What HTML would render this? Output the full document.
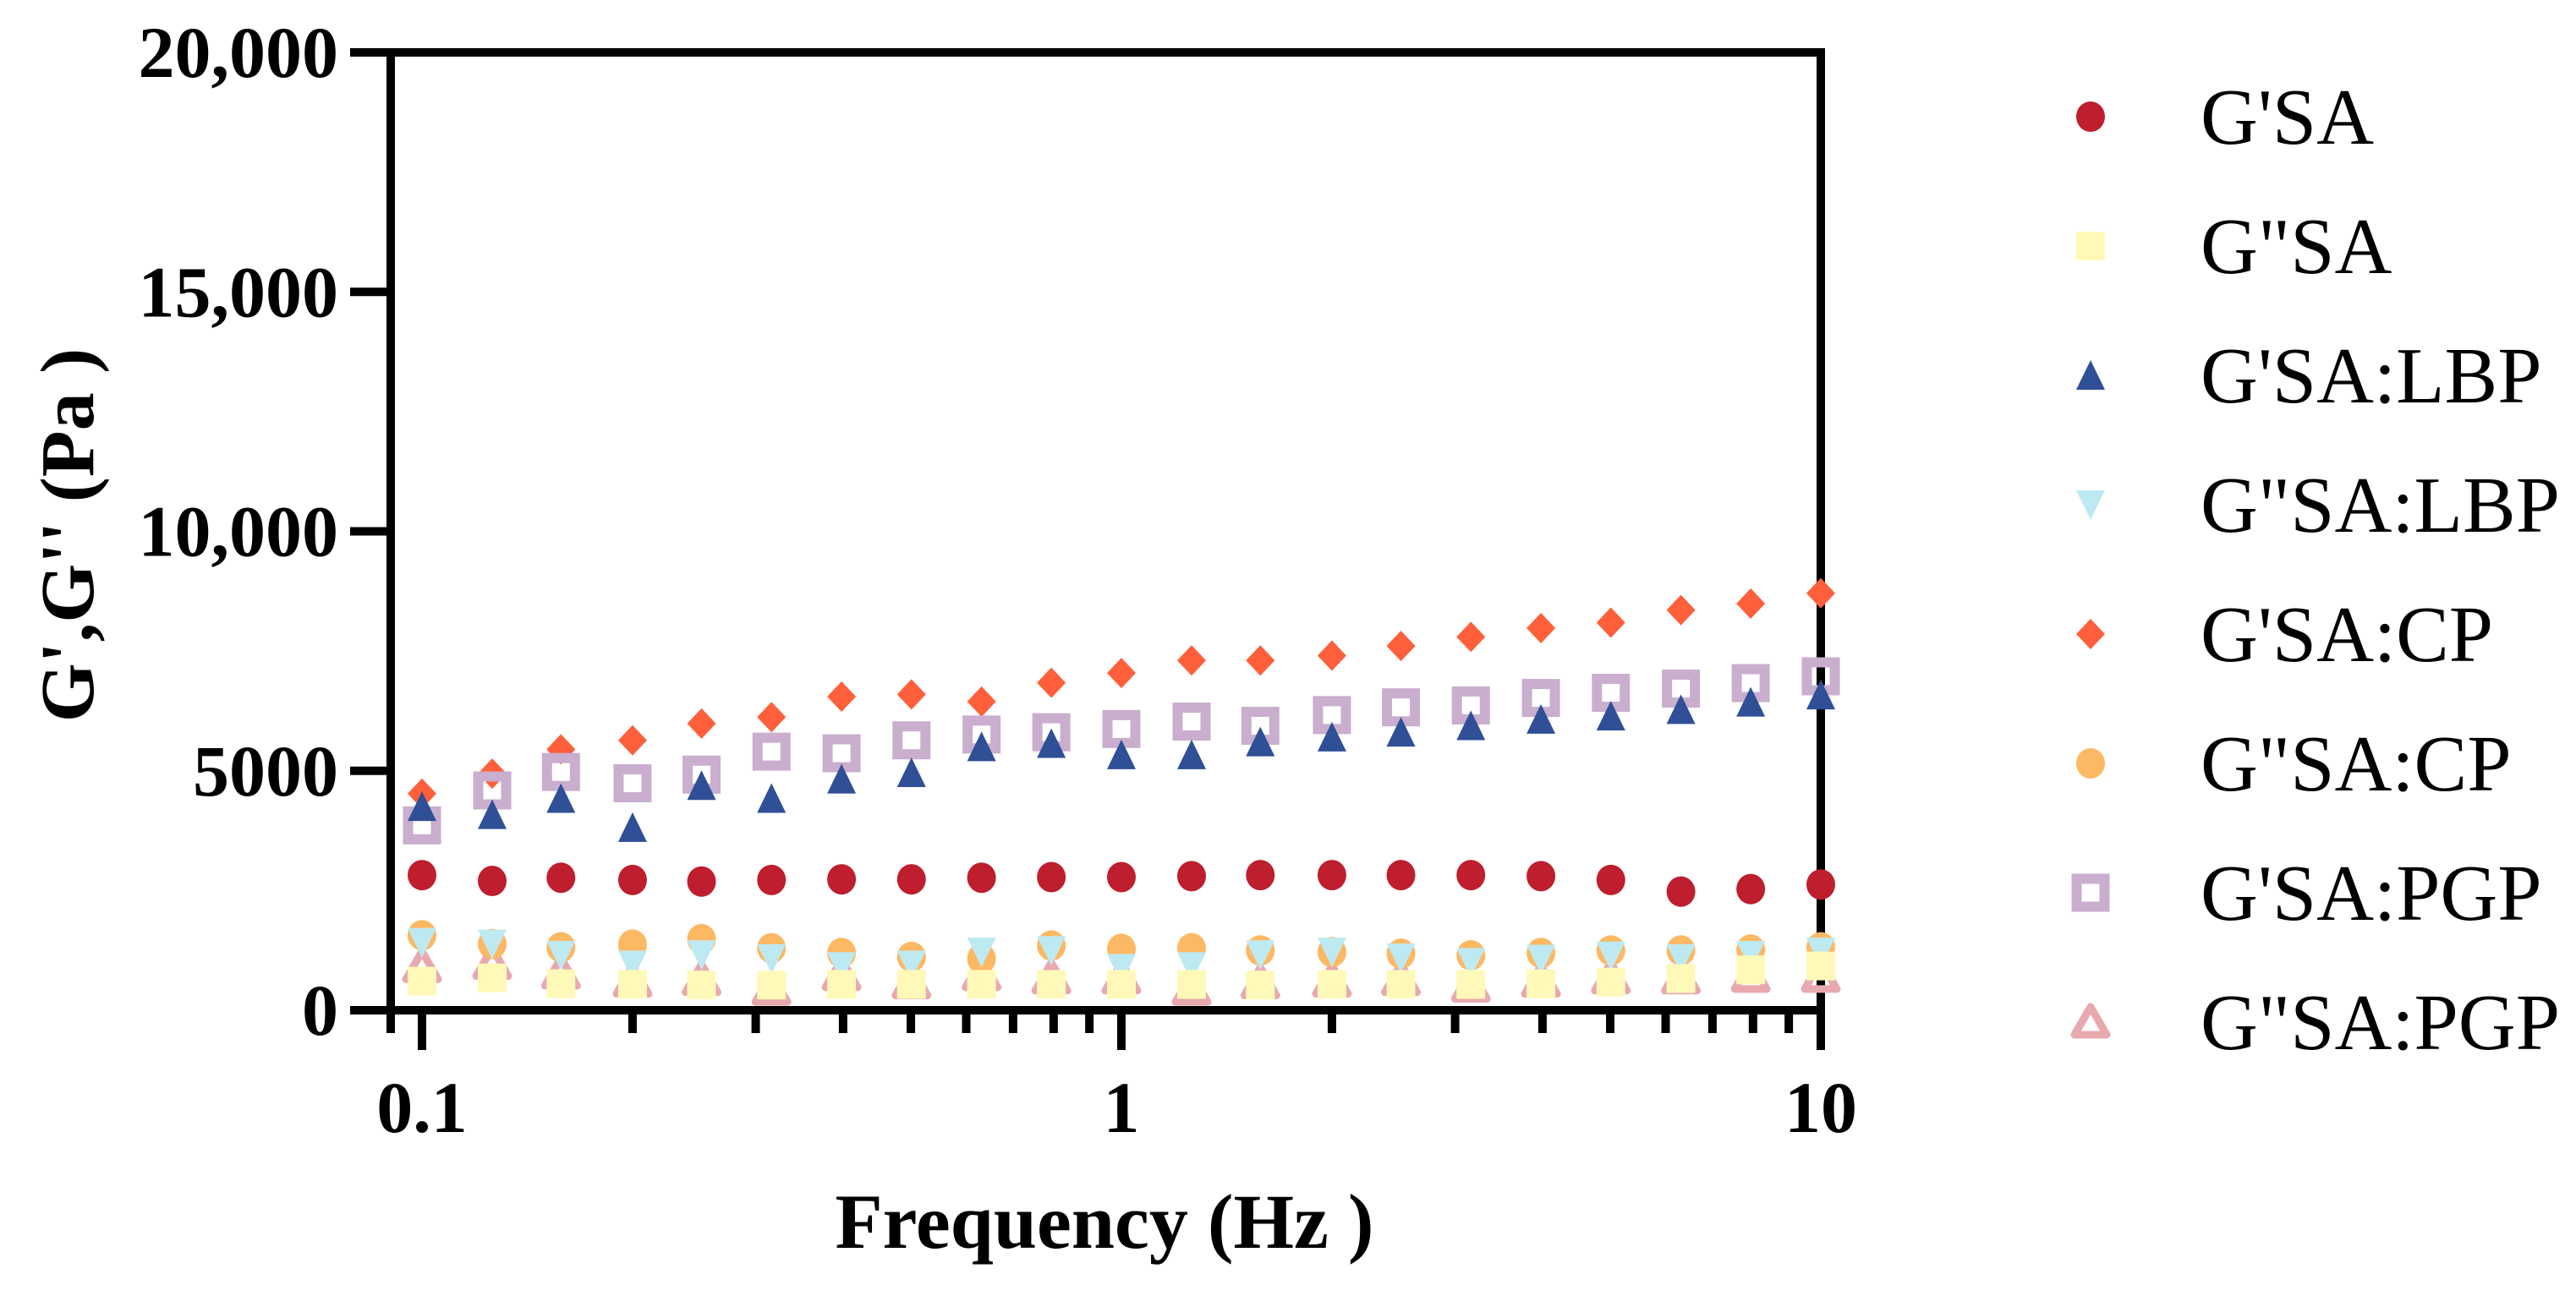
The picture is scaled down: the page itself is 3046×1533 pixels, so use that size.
<!DOCTYPE html>
<html><head><meta charset="utf-8">
<style>html,body{margin:0;padding:0;background:#fff;}svg{display:block;}</style></head>
<body>
<svg id="chart" width="3046" height="1533" viewBox="0 0 3046 1533" xmlns="http://www.w3.org/2000/svg">
<g id="axes"></g>
<g id="marks"></g>
<g id="legend"></g>
<text transform="translate(110,633) rotate(-90)" text-anchor="middle" font-family="Liberation Serif, serif" font-weight="bold" font-size="90">G',G'' (Pa )</text>
<text x="1306" y="1476" text-anchor="middle" font-family="Liberation Serif, serif" font-weight="bold" font-size="92">Frequency (Hz )</text>
</svg>
<script>
const freqs = [0.1,0.126,0.158,0.2,0.251,0.316,0.398,0.501,0.631,0.794,1,1.26,1.58,2,2.51,3.16,3.98,5.01,6.31,7.94,10];
const gpSA = [2822,2700,2768,2720,2687,2720,2734,2734,2768,2781,2781,2801,2822,2822,2822,2822,2801,2720,2477,2531,2626];
const gppSA = [608,675,553,540,527,527,540,540,540,540,540,540,527,540,540,540,553,587,662,844,925];
const gpLBP = [4253,4084,4421,3814,4691,4421,4826,4961,5501,5569,5333,5333,5603,5704,5805,5940,6074,6143,6278,6433,6581];
const gppLBP = [1417,1384,1148,945,1161,1080,911,945,1215,1249,877,911,1161,1215,1094,999,1067,1134,1080,1148,1215];
const gpCP = [4523,4941,5447,5636,5987,6122,6548,6595,6446,6838,7040,7304,7304,7405,7607,7796,7979,8093,8357,8491,8708];
const gppCP = [1566,1384,1316,1370,1485,1296,1195,1114,1080,1350,1282,1296,1249,1215,1181,1148,1195,1249,1249,1269,1316];
const gpPGP = [3861,4590,4975,4739,4921,5400,5366,5636,5758,5805,5873,6028,5940,6163,6325,6365,6521,6629,6716,6831,6973];
const gppPGP = [911,979,776,608,641,439,743,574,743,675,675,439,574,608,641,506,608,675,675,709,709];
const yTicks = [0,5000,10000,15000,20000];
const yTickLabels = ["0","5000","10,000","15,000","20,000"];
const xMajor = [0.1,1,10];
const xMajorLabels = ["0.1","1","10"];
const xMinor = [0.2,0.3,0.4,0.5,0.6,0.7,0.8,0.9,2,3,4,5,6,7,8,9];
const legendLabels = ["G'SA","G\"SA","G'SA:LBP","G\"SA:LBP","G'SA:CP","G\"SA:CP","G'SA:PGP","G\"SA:PGP"];

const NS="http://www.w3.org/2000/svg";
const L=462,R=2153,T=62,B=1195;
const X0=499, DEC=827;
function xs(f){return X0+Math.log10(f/0.1)*DEC;}
function ys(v){return B-(v/20000)*(B-T);}
function mk(tag,attrs,parent){const e=document.createElementNS(NS,tag);for(const k in attrs)e.setAttribute(k,attrs[k]);parent.appendChild(e);return e;}
const axes=document.getElementById('axes'),marks=document.getElementById('marks'),legend=document.getElementById('legend');

let fr=mk('rect',{x:L,y:T,width:R-L,height:B-T,fill:'none',stroke:'#000','stroke-width':10},axes);


let ext=mk('line',{x1:L,y1:B,x2:L,y2:1222,stroke:'#000','stroke-width':10},axes);


yTicks.forEach((v,i)=>{
  let t=mk('line',{x1:414,x2:L,y1:ys(v),y2:ys(v),stroke:'#000','stroke-width':10},axes);
  
  
  let lb=mk('text',{x:400,y:ys(v)+29,'text-anchor':'end','font-family':'Liberation Serif, serif','font-weight':'bold','font-size':86},axes);
  lb.textContent=yTickLabels[i];
  
  
});
xMajor.forEach((f,i)=>{
  let t=mk('line',{x1:xs(f),x2:xs(f),y1:B,y2:1242,stroke:'#000','stroke-width':10},axes);
  
  
  let lb=mk('text',{x:xs(f),y:1339,'text-anchor':'middle','font-family':'Liberation Serif, serif','font-weight':'bold','font-size':86},axes);
  lb.textContent=xMajorLabels[i];
  
  
});
xMinor.forEach(f=>{
  let t=mk('line',{x1:xs(f),x2:xs(f),y1:B,y2:1222,stroke:'#000','stroke-width':10},axes);
  
  
});

function drawMarker(type,cx,cy,color,parent){
  const s=17;
  if(type==='circle') return mk('ellipse',{cx:cx,cy:cy,rx:s,ry:s+1,fill:color},parent);
  if(type==='square') return mk('rect',{x:cx-s,y:cy-s,width:2*s,height:2*s,fill:color},parent);
  if(type==='tri') return mk('polygon',{points:`${cx},${cy-s-1} ${cx+s},${cy+s} ${cx-s},${cy+s}`,fill:color},parent);
  if(type==='trid') return mk('polygon',{points:`${cx-s},${cy-s} ${cx+s},${cy-s} ${cx},${cy+s+1}`,fill:color},parent);
  if(type==='diamond') return mk('polygon',{points:`${cx},${cy-s-1} ${cx+s},${cy} ${cx},${cy+s+1} ${cx-s},${cy}`,fill:color},parent);
  if(type==='hsquare') return mk('rect',{x:cx-16.5,y:cy-16.5,width:33,height:33,fill:'none',stroke:color,'stroke-width':12},parent);
  if(type==='htri') return mk('polygon',{points:`${cx},${cy-18} ${cx+19},${cy+15} ${cx-19},${cy+15}`,fill:'none',stroke:color,'stroke-width':9,'stroke-linejoin':'round'},parent);
}
const series=[
 {name:'gp-sa',data:gpSA,type:'circle',color:'#BE1E2D',leg:0},
 {name:'gp-sa-cp',data:gpCP,type:'diamond',color:'#FF5F3A',leg:4},
 {name:'gp-sa-pgp',data:gpPGP,type:'hsquare',color:'#C9AECE',leg:6},
 {name:'gp-sa-lbp',data:gpLBP,type:'tri',color:'#2F4F96',leg:2},
 {name:'gpp-sa-pgp',data:gppPGP,type:'htri',color:'#E8A9AE',leg:7},
 {name:'gpp-sa-cp',data:gppCP,type:'circle',color:'#FDB863',leg:5},
 {name:'gpp-sa-lbp',data:gppLBP,type:'trid',color:'#BDEAF2',leg:3},
 {name:'gpp-sa',data:gppSA,type:'square',color:'#FFF9B9',leg:1}
];
series.forEach(sr=>{
  const g=mk('g',{},marks);
  
  
  sr.data.forEach((v,i)=>{
    const m=drawMarker(sr.type,xs(freqs[i]),ys(v),sr.color,g);
    
    
  });
  const ly=138+sr.leg*153;
  const lg=mk('g',{},legend);
  
  
  const lm=drawMarker(sr.type,2472,ly,sr.color,lg);
  
  
  const lt=mk('text',{x:2602,y:ly+32,'font-family':'Liberation Serif, serif','font-size':94},lg);
  lt.textContent=legendLabels[sr.leg];
  
  
});
</script>
</body></html>
